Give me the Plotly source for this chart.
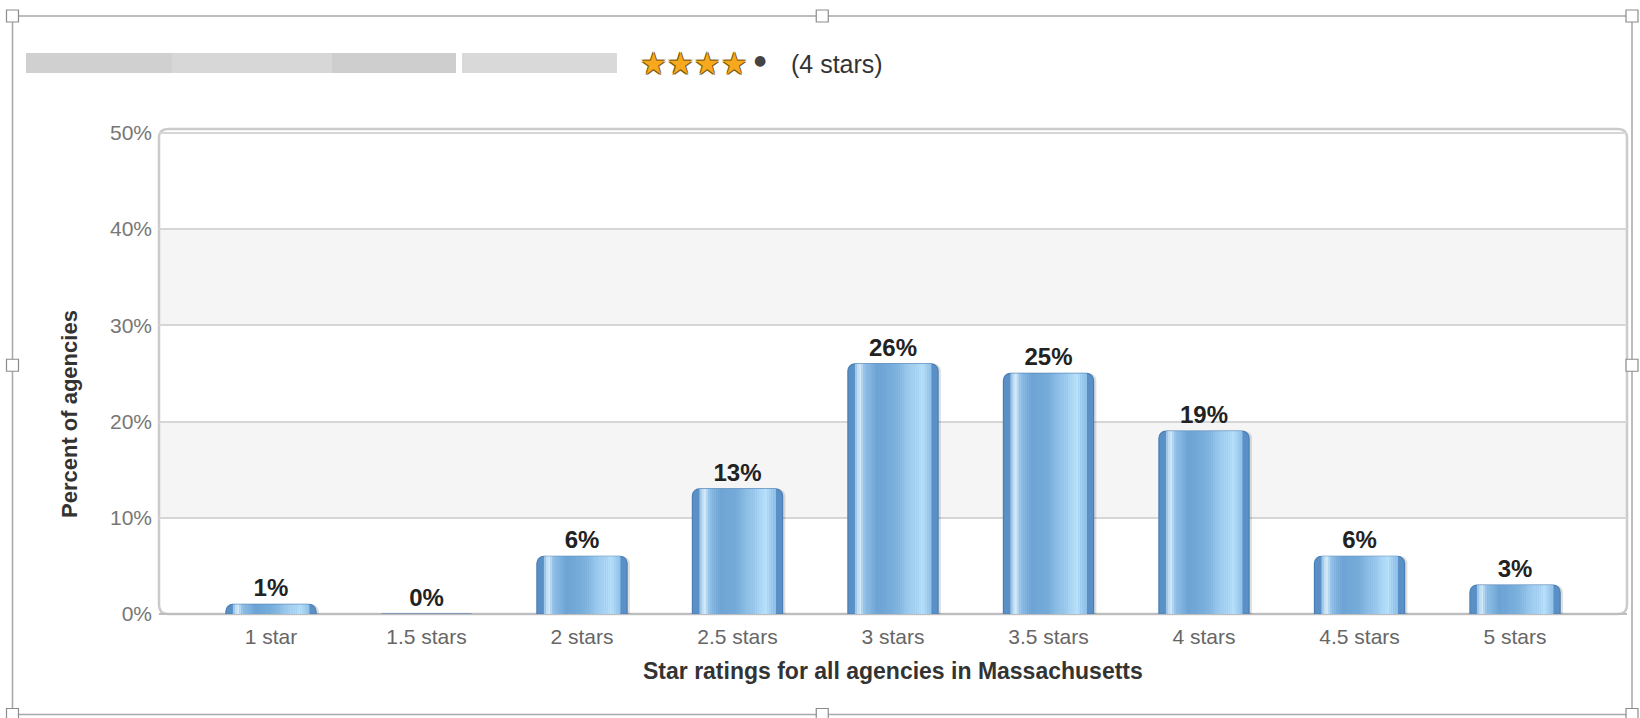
"""
Star-rating distribution chart (percent of agencies per rating).
"""

import plotly.graph_objects as go

categories = ['1 star', '1.5 stars', '2 stars', '2.5 stars', '3 stars',
              '3.5 stars', '4 stars', '4.5 stars', '5 stars']
percent_agencies = [1, 0, 6, 13, 26, 25, 19, 6, 3]
y_ticks = [0, 10, 20, 30, 40, 50]
y_tick_labels = ['0%', '10%', '20%', '30%', '40%', '50%']
shaded_bands = [(10, 20), (30, 40)]

W, H = 1640, 718
ML, MR, MT, MB = 159, 13, 129, 104
PW, PH = W - ML - MR, H - MT - MB

FONT = 'Liberation Sans, Arial, sans-serif'
BAR_W = 0.58
CORNER = 7  # px


def px(x):
    return (x - ML) / PW


def py(y):
    return (H - MB - y) / PH


def hex_rgb(h):
    h = h.lstrip('#')
    return tuple(int(h[i:i + 2], 16) for i in (0, 2, 4))


# cylinder look: colour stops across the bar width
stops = [
    (0.00, '#4f86bd'), (0.07, '#82b4de'), (0.13, '#dcefFc'),
    (0.19, '#8fbfe7'), (0.32, '#6ea4d5'), (0.50, '#78aeda'),
    (0.68, '#9dcbee'), (0.82, '#b8e0fb'), (0.92, '#90c1e8'),
    (1.00, '#5b8fc3'),
]


def color_at(t):
    for (t0, c0), (t1, c1) in zip(stops[:-1], stops[1:]):
        if t0 <= t <= t1:
            a, b = hex_rgb(c0), hex_rgb(c1)
            f = (t - t0) / (t1 - t0) if t1 > t0 else 0
            return 'rgb(%d,%d,%d)' % tuple(round(a[i] + (b[i] - a[i]) * f) for i in range(3))
    return stops[-1][1]


fig = go.Figure()

# soft drop shadow
fig.add_trace(go.Bar(
    x=categories, y=percent_agencies, width=BAR_W, offset=-BAR_W / 2 + 0.018,
    marker=dict(color='rgba(0,0,0,0.13)', cornerradius=CORNER, line=dict(width=0)),
    hoverinfo='skip', showlegend=False,
))

# base bar with rounded corners and outline
fig.add_trace(go.Bar(
    x=categories, y=percent_agencies, width=BAR_W, offset=-BAR_W / 2,
    marker=dict(color='#5a90c6', cornerradius=CORNER,
                line=dict(color='#4a7fb6', width=1.2)),
    text=[f'{v}%' for v in percent_agencies], textposition='outside',
    textfont=dict(family=FONT, size=24, color='#222222', weight='bold'),
    cliponaxis=False, hoverinfo='skip', showlegend=False,
))

# gradient stripes inside the rounded edges
unit_px = PW / 9.44
edge = CORNER / unit_px
n = 36
inner = BAR_W - 2 * edge
sw = inner / n
for i in range(n):
    start = -BAR_W / 2 + edge + i * sw
    t = (start + sw / 2 + BAR_W / 2) / BAR_W
    fig.add_trace(go.Bar(
        x=categories, y=percent_agencies, width=sw * 1.15, offset=start,
        marker=dict(color=color_at(t), line=dict(width=0)),
        hoverinfo='skip', showlegend=False,
    ))

shapes = []
for lo, hi in shaded_bands:
    shapes.append(dict(type='rect', xref='paper', yref='y', x0=0, x1=1, y0=lo, y1=hi,
                       fillcolor='#f5f5f5', line=dict(width=0), layer='below'))

# rounded plot frame (under the bars so the 0% bar line shows)
rx, ry = 9 / PW, 9 / PH
x0, x1, y0, y1 = 0, 1, 0, 1
path = (f'M {x0+rx},{y1} L {x1-rx},{y1} Q {x1},{y1} {x1},{y1-ry} L {x1},{y0+ry} '
        f'Q {x1},{y0} {x1-rx},{y0} L {x0+rx},{y0} Q {x0},{y0} {x0},{y0+ry} '
        f'L {x0},{y1-ry} Q {x0},{y1} {x0+rx},{y1} Z')
shapes.append(dict(type='path', xref='paper', yref='paper', path=path,
                   line=dict(color='#cbcbcb', width=2.5), layer='below'))
shapes.append(dict(type='line', xref='paper', yref='paper', x0=0, x1=1, y0=0, y1=0,
                   line=dict(color='#bdbdbd', width=2), layer='below'))

# outer selection frame with handles
frame = (12.5, 16, 1632, 714.5)
shapes.append(dict(type='rect', xref='paper', yref='paper',
                   x0=px(frame[0]), x1=px(frame[2]), y0=py(frame[3]), y1=py(frame[1]),
                   line=dict(color='#a8a8a8', width=1.5), layer='above'))
handles = [(frame[0], frame[1]), ((frame[0] + frame[2]) / 2, frame[1]), (frame[2], frame[1]),
           (frame[0], (frame[1] + frame[3]) / 2), (frame[2], (frame[1] + frame[3]) / 2),
           (frame[0], frame[3]), ((frame[0] + frame[2]) / 2, frame[3]), (frame[2], frame[3])]
for hx, hy in handles:
    shapes.append(dict(type='rect', xref='paper', yref='paper',
                       x0=px(hx - 6), x1=px(hx + 6), y0=py(hy + 6), y1=py(hy - 6),
                       fillcolor='white', line=dict(color='#8c8c8c', width=1.2),
                       layer='above'))

# blurred (redacted) name in header
for bx0, bx1, shade in [(26, 172, '#cbcbcb'), (172, 332, '#d3d3d3'),
                        (332, 456, '#c9c9c9'), (462, 617, '#d5d5d5')]:
    shapes.append(dict(type='rect', xref='paper', yref='paper',
                       x0=px(bx0), x1=px(bx1), y0=py(73), y1=py(53),
                       fillcolor=shade, line=dict(width=0), opacity=0.9, layer='above'))

annotations = [
    dict(text='★★★★', x=px(638), y=py(63), xref='paper', yref='paper',
         xanchor='left', yanchor='middle', showarrow=False,
         font=dict(family='DejaVu Sans', size=30, color='#f7a81c',
                   shadow='0.8px 0.8px 0 #7a5a10, -0.8px -0.8px 0 #7a5a10, '
                          '0.8px -0.8px 0 #7a5a10, -0.8px 0.8px 0 #7a5a10')),
    dict(text='●', x=px(760), y=py(60), xref='paper', yref='paper',
         xanchor='center', yanchor='middle', showarrow=False,
         font=dict(family='DejaVu Sans', size=14, color='#444444')),
    dict(text='(4 stars)', x=px(789), y=py(64), xref='paper', yref='paper',
         xanchor='left', yanchor='middle', showarrow=False,
         font=dict(family=FONT, size=25, color='#333333')),
    dict(text='Star ratings for all agencies in Massachusetts', x=0.5, y=py(671),
         xref='paper', yref='paper', xanchor='center', yanchor='middle', showarrow=False,
         font=dict(family=FONT, size=23, color='#333333', weight='bold')),
    dict(text='Percent of agencies', x=px(69), y=py(414), xref='paper', yref='paper',
         xanchor='center', yanchor='middle', showarrow=False, textangle=-90,
         font=dict(family=FONT, size=22, color='#333333', weight='bold')),
]

fig.update_layout(
    width=W, height=H,
    margin=dict(l=ML, r=MR, t=MT, b=MB),
    barmode='overlay',
    paper_bgcolor='white', plot_bgcolor='white',
    shapes=shapes, annotations=annotations,
    font=dict(family=FONT),
    xaxis=dict(range=[-0.72, 8.72], showgrid=False, zeroline=False, showline=False,
               ticks='', ticklabelstandoff=8,
               tickfont=dict(family=FONT, size=21, color='#666666'), fixedrange=True),
    yaxis=dict(range=[0, 50.4], tickvals=y_ticks, ticktext=y_tick_labels,
               showgrid=True, gridcolor='#d6d6d6', gridwidth=1.5, zeroline=False,
               showline=False, ticks='', ticklabelstandoff=6,
               tickfont=dict(family=FONT, size=21, color='#777777'), fixedrange=True),
)

fig.write_html('out.html', config={'displayModeBar': False},
               post_script="document.body.style.margin='0';")
